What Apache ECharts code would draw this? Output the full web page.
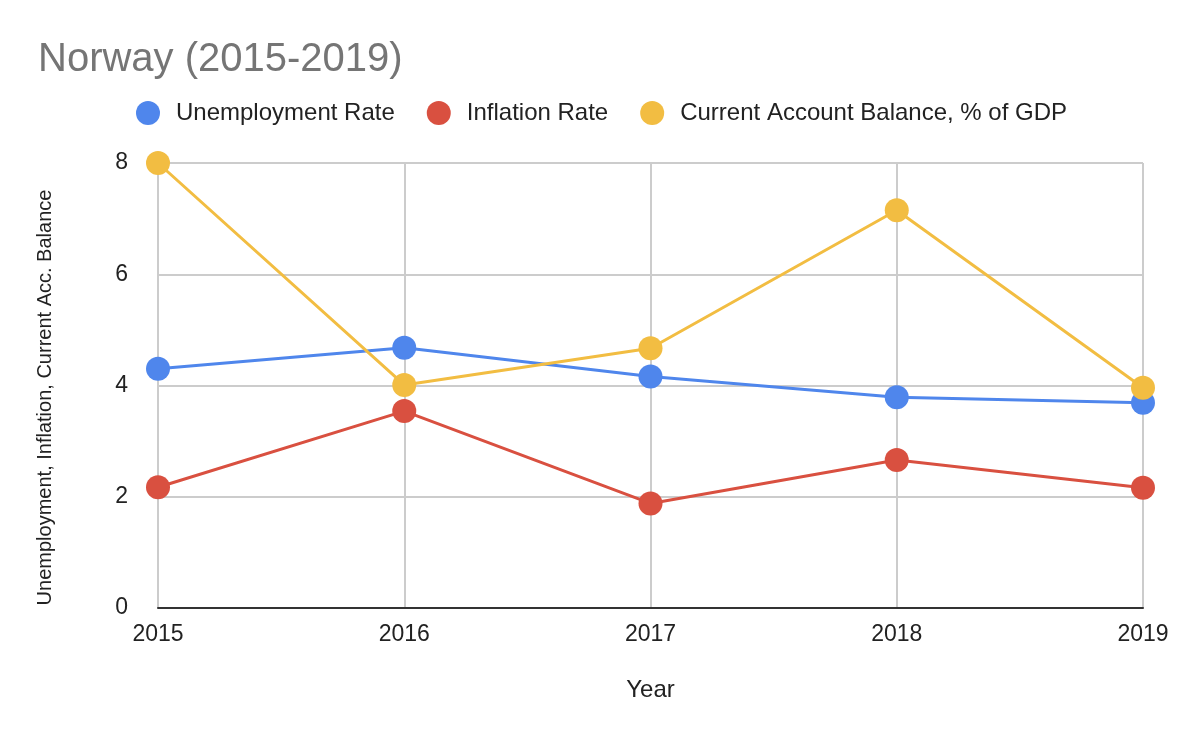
<!DOCTYPE html>
<html>
<head>
<meta charset="utf-8">
<script src="https://cdn.jsdelivr.net/npm/echarts@6/dist/echarts.min.js"></script>
<style>
  html, body { margin: 0; padding: 0; background: #fff; }
  #chart { width: 1198px; height: 742px; }
</style>
</head>
<body>
<div id="chart"></div>
<script>
var years = ['2015', '2016', '2017', '2018', '2019'];
var unemployment = [4.3, 4.68, 4.16, 3.79, 3.69];
var inflation = [2.17, 3.54, 1.88, 2.66, 2.16];
var currentAccount = [8.0, 4.01, 4.67, 7.15, 3.96];
var yTicks = [0, 2, 4, 6, 8];

var font = '"Liberation Sans", Arial, sans-serif';

function lineSeries(name, data, color) {
  return {
    name: name,
    type: 'line',
    data: data,
    symbol: 'circle',
    symbolSize: 24,
    lineStyle: { width: 3, color: color },
    itemStyle: { color: color },
    emphasis: { disabled: true }
  };
}

var chart = echarts.init(document.getElementById('chart'));
var option = {
  backgroundColor: '#fff',
  animation: false,
  color: ['#4f86ec', '#d95040', '#f2bd42'],
  textStyle: { fontFamily: font },
  title: {
    text: 'Norway (2015-2019)',
    left: 38,
    top: 40,
    padding: 0,
    textStyle: { color: '#757575', fontSize: 40, fontWeight: 'normal', fontFamily: font }
  },
  legend: {
    left: 136,
    top: 101,
    padding: 0,
    icon: 'circle',
    itemWidth: 24,
    itemHeight: 24,
    itemGap: 32,
    textStyle: { color: '#222', fontSize: 24, fontFamily: font, padding: [0, 0, 0, 11] },
    data: ['Unemployment Rate', 'Inflation Rate', 'Current Account Balance, % of GDP']
  },
  grid: { left: 158, right: 55, top: 163, bottom: 134 },
  xAxis: {
    type: 'category',
    data: years,
    boundaryGap: false,
    name: 'Year',
    nameLocation: 'middle',
    nameGap: 70,
    nameTextStyle: { color: '#222', fontSize: 24, fontFamily: font },
    axisLine: { show: true, lineStyle: { color: '#333333', width: 2 } },
    axisTick: { show: false },
    axisLabel: { color: '#222', fontSize: 23, margin: 15, fontFamily: font },
    splitLine: { show: true, lineStyle: { color: '#cccccc', width: 2 } }
  },
  yAxis: {
    type: 'value',
    min: yTicks[0],
    max: yTicks[yTicks.length - 1],
    interval: 2,
    name: 'Unemployment, Inflation, Current Acc. Balance',
    nameLocation: 'middle',
    nameGap: 103,
    nameTextStyle: { color: '#222', fontSize: 20, fontFamily: font, padding: [0, 24, 0, 0] },
    axisLine: { show: false },
    axisTick: { show: false },
    axisLabel: { color: '#222', fontSize: 23, margin: 30, fontFamily: font },
    splitLine: { show: true, lineStyle: { color: '#cccccc', width: 2 } }
  },
  series: [
    lineSeries('Unemployment Rate', unemployment, '#4f86ec'),
    lineSeries('Inflation Rate', inflation, '#d95040'),
    lineSeries('Current Account Balance, % of GDP', currentAccount, '#f2bd42')
  ]
};
chart.setOption(option);
</script>
</body>
</html>
